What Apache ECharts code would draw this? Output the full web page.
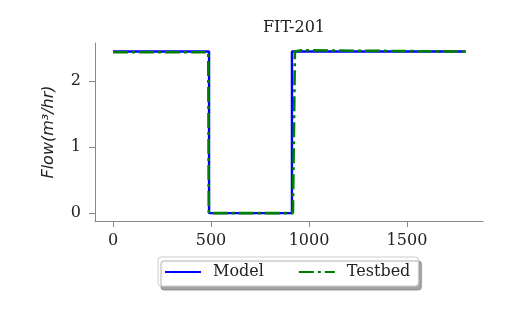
<!DOCTYPE html>
<html><head><meta charset="utf-8">
<script src="https://cdn.jsdelivr.net/npm/echarts@6/dist/echarts.min.js"></script>
<style>html,body{margin:0;padding:0;background:#fff}#c{width:509px;height:315px}</style>
</head><body><div id="c"></div>
<script>
const title = 'FIT-201';
const seriesNames = ['Model', 'Testbed'];
const xTicks = [0, 500, 1000, 1500];
const yTicks = [0, 1, 2];
const modelX = [0, 490, 490, 913, 913, 1800];
const modelY = [2.45, 2.45, 0, 0, 2.45, 2.45];
const testbedX = [0, 486, 489, 918, 923, 928, 960, 1800];
const testbedY = [2.44, 2.44, 0, 0, 1.2, 2.45, 2.47, 2.45];

const zip = (xs, ys) => xs.map((x, i) => [x, ys[i]]);
const chart = echarts.init(document.getElementById('c'), null, {renderer: 'canvas'});
const serif = 'DejaVu Serif';
chart.setOption({
  animation: false,
  backgroundColor: '#fff',
  title: {text: title, left: 289, top: 15, textAlign: 'center',
    textStyle: {fontFamily: serif, fontSize: 16, fontWeight: 'normal', color: '#222'}},
  grid: {left: 95, right: 26, top: 43, bottom: 94},
  xAxis: {type: 'value', min: -92, max: 1888,
    axisLine: {onZero: false, lineStyle: {color: '#888', width: 1}},
    axisTick: {show: true, length: 6, customValues: xTicks, lineStyle: {color: '#888'}},
    axisLabel: {customValues: xTicks, formatter: v => String(v), fontFamily: serif, fontSize: 16, color: '#222', margin: 12},
    splitLine: {show: false}},
  yAxis: {type: 'value', min: -0.12, max: 2.58,
    name: 'Flow(m³/hr)', nameLocation: 'middle', nameGap: 38,
    nameTextStyle: {fontFamily: 'DejaVu Sans', fontStyle: 'italic', fontSize: 16, color: '#222'},
    axisLine: {show: true, onZero: false, lineStyle: {color: '#888', width: 1}},
    axisTick: {show: true, length: 6, customValues: yTicks, lineStyle: {color: '#888'}},
    axisLabel: {customValues: yTicks, formatter: v => String(v), fontFamily: serif, fontSize: 16, color: '#222', margin: 14},
    splitLine: {show: false}},
  legend: {left: 158, top: 257, orient: 'horizontal',
    itemWidth: 36, itemHeight: 12, itemGap: 34,
    padding: [7, 8, 6, 6],
    itemStyle: {opacity: 0},
    backgroundColor: '#fff', borderColor: '#ccc', borderWidth: 1, borderRadius: 3,
    shadowColor: 'rgba(0,0,0,0.35)', shadowOffsetX: 3, shadowOffsetY: 4, shadowBlur: 1,
    textStyle: {fontFamily: serif, fontSize: 16, color: '#222', padding: [0, 0, 0, 7]},
    data: seriesNames},
  series: [
    {name: seriesNames[0], type: 'line', data: zip(modelX, modelY), showSymbol: false, symbol: 'none',
      lineStyle: {color: '#0000ff', width: 2.4}, itemStyle: {color: '#0000ff'}},
    {name: seriesNames[1], type: 'line', data: zip(testbedX, testbedY), showSymbol: false, symbol: 'none',
      lineStyle: {color: '#008000', width: 2.6, type: [15, 4, 3, 4]}, itemStyle: {color: '#008000'}}
  ]
});
</script></body></html>
